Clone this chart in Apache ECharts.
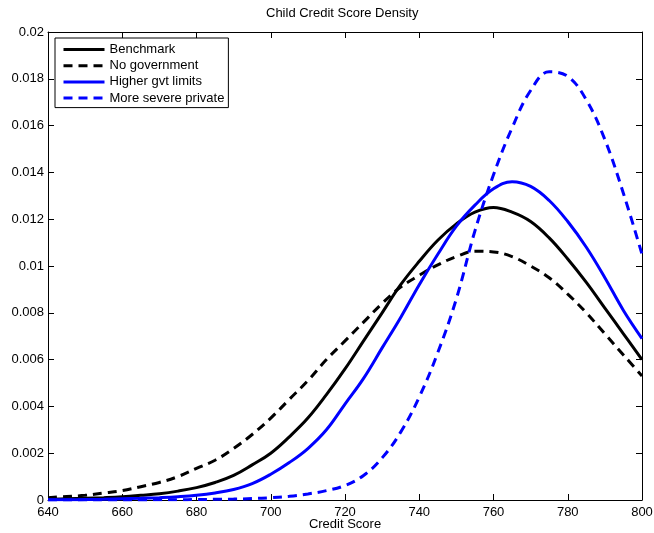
<!DOCTYPE html>
<html>
<head>
<meta charset="utf-8">
<script src="https://cdn.jsdelivr.net/npm/echarts@6/dist/echarts.min.js"></script>
<style>
html,body{margin:0;padding:0;background:#fff;}
#chart{width:654px;height:533px;}
</style>
</head>
<body>
<div id="chart"></div>
<script>
var scores = [640,645,650,655,660,665,670,675,680,685,690,695,700,705,710,715,720,725,730,735,740,745,750,755,760,765,770,775,780,785,790,795,800];
var benchmark = [0.00003,0.00005,0.00007,0.0001,0.00014,0.0002,0.00027,0.00038,0.00053,0.00075,0.00105,0.0015,0.002,0.0027,0.0035,0.0045,0.0056,0.0068,0.008,0.0092,0.0102,0.0111,0.0118,0.0123,0.0125,0.0123,0.0119,0.0112,0.0103,0.0093,0.0082,0.0071,0.006];
var noGovernment = [0.0001,0.00015,0.0002,0.0003,0.0004,0.00057,0.00075,0.001,0.00135,0.0017,0.0022,0.0028,0.0035,0.0043,0.0051,0.006,0.0068,0.0076,0.0084,0.0091,0.0096,0.01005,0.0104,0.01063,0.0106,0.0104,0.01,0.0095,0.0088,0.008,0.0071,0.0062,0.0053];
var higherGvt = [0.00001,0.00001,0.00002,0.00003,0.00005,0.00007,0.0001,0.00014,0.0002,0.0003,0.00045,0.0007,0.0011,0.0016,0.0022,0.003,0.0041,0.0052,0.0065,0.0078,0.0092,0.0105,0.0117,0.0126,0.0133,0.0136,0.0134,0.0128,0.0119,0.0108,0.0095,0.0081,0.0069];
var severePrivate = [0,0,0,0,0,0,0.00001,0.00001,0.00002,0.00003,0.00004,0.00006,0.0001,0.00016,0.00026,0.0004,0.00062,0.00105,0.0018,0.0029,0.0044,0.0063,0.0086,0.0115,0.0139,0.0159,0.0175,0.0183,0.0181,0.0171,0.0154,0.0131,0.0105];
var seriesNames = ['Benchmark','No government','Higher gvt limits','More severe private'];
var xTicks = [640,800,20];
var yTicks = [0,0.02,0.002];

var FONT = '"Liberation Sans", Arial, Helvetica, sans-serif';
function pairs(arr){ return scores.map(function(x,i){ return [x, arr[i]]; }); }

var chart = echarts.init(document.getElementById('chart'), null, {renderer:'canvas'});
var axisCommon = {
  axisLine:{show:true, onZero:false, lineStyle:{color:'#000', width:1}},
  axisTick:{show:true, inside:true, length:6, lineStyle:{color:'#000'}},
  splitLine:{show:false}
};
function mk(o){ return Object.assign({}, axisCommon, o); }
var lineDefs = [
  {name:seriesNames[0], data:benchmark, color:'#000000', type:'solid'},
  {name:seriesNames[1], data:noGovernment, color:'#000000', type:[9,6]},
  {name:seriesNames[2], data:higherGvt, color:'#0000ff', type:'solid'},
  {name:seriesNames[3], data:severePrivate, color:'#0000ff', type:[9,6]}
];
chart.setOption({
  animation:false,
  backgroundColor:'#fff',
  textStyle:{fontFamily:FONT},
  title:{text:'Child Credit Score Density', left:266, top:7, padding:0,
    textStyle:{fontSize:13, fontWeight:'normal', color:'#000', fontFamily:FONT}},
  grid:{left:48, right:12, top:32, bottom:33, containLabel:false, outerBoundsMode:'none'},
  legend:{
    orient:'vertical', left:55, top:38,
    data:seriesNames,
    backgroundColor:'#fff', borderColor:'#000', borderWidth:1,
    padding:[5,4,3,7], itemWidth:41, itemHeight:13, itemGap:3.2,
    itemStyle:{opacity:0},
    lineStyle:{width:3},
    textStyle:{fontSize:13, color:'#000', fontFamily:FONT}
  },
  xAxis:[
    mk({type:'value', min:xTicks[0], max:xTicks[1], interval:xTicks[2], position:'bottom',
      name:'Credit Score', nameLocation:'middle', nameGap:18, nameMoveOverlap:false,
      nameTextStyle:{fontSize:13, color:'#000', fontFamily:FONT},
      axisLabel:{fontSize:13, color:'#000', margin:6, fontFamily:FONT}}),
    mk({type:'value', min:xTicks[0], max:xTicks[1], interval:xTicks[2], position:'top',
      axisLabel:{show:false}})
  ],
  yAxis:[
    mk({type:'value', min:yTicks[0], max:yTicks[1], interval:yTicks[2], position:'left',
      axisLabel:{fontSize:13, color:'#000', margin:4, fontFamily:FONT,
        formatter:function(v){ return String(parseFloat(v.toFixed(4))); }}}),
    mk({type:'value', min:yTicks[0], max:yTicks[1], interval:yTicks[2], position:'right',
      axisLabel:{show:false}})
  ],
  series: lineDefs.map(function(d){
    return {
      name:d.name, type:'line', xAxisIndex:0, yAxisIndex:0,
      data:pairs(d.data), smooth:0.4, symbol:'none', clip:true,
      color:d.color,
      lineStyle:{color:d.color, width:3, type:d.type, cap:'butt'},
      itemStyle:{color:d.color}
    };
  })
});
</script>
</body>
</html>
